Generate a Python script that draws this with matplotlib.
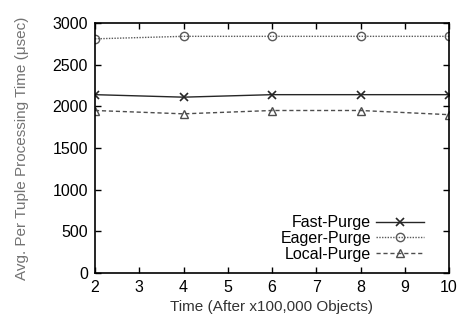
import numpy as np
import matplotlib.pyplot as plt

plt.rcParams['font.family'] = ['Liberation Sans', 'DejaVu Sans']

x = [2, 4, 6, 8, 10]
fast_purge = [2140, 2110, 2140, 2140, 2140]
eager_purge = [2810, 2840, 2840, 2840, 2840]
local_purge = [1950, 1910, 1950, 1950, 1900]

fig = plt.figure(figsize=(4.66, 3.23), dpi=100)
ax = fig.add_axes([95/466, 50/323, 354/466, 250/323])

ax.plot(x, fast_purge, color='0.15', ls='-', lw=1.0, marker='x', ms=6, mew=1.2, label='Fast-Purge')
ax.plot(x, eager_purge, color='0.35', ls=(0, (1, 1)), lw=1.0, marker='o', ms=6, mfc='none', mew=1.0, label='Eager-Purge')
ax.plot(x, local_purge, color='0.3', ls=(0, (3, 2)), lw=1.0, marker='^', ms=6, mfc='none', mew=1.0, label='Local-Purge')

ax.set_xlim(2, 10)
ax.set_ylim(0, 3000)
ax.set_xticks(range(2, 11))
ax.set_yticks(range(0, 3001, 500))
ax.tick_params(direction='in', top=True, right=True, labelsize=11.5, length=4, width=1, pad=5)
for s in ax.spines.values():
    s.set_linewidth(1.2)
ax.set_xlabel('Time (After x100,000 Objects)', fontsize=11, color='0.2', labelpad=4)
ax.set_ylabel('Avg. Per Tuple Processing Time (\u03bcsec)', fontsize=11, color='0.45', labelpad=17)

ax.legend(loc='lower right', markerfirst=False, frameon=False, fontsize=11.5,
          handlelength=3.0, labelspacing=0.05, borderaxespad=0.3, handletextpad=0.3,
          bbox_to_anchor=(0.96, 0.0))

fig.savefig('out.png', dpi=100)
